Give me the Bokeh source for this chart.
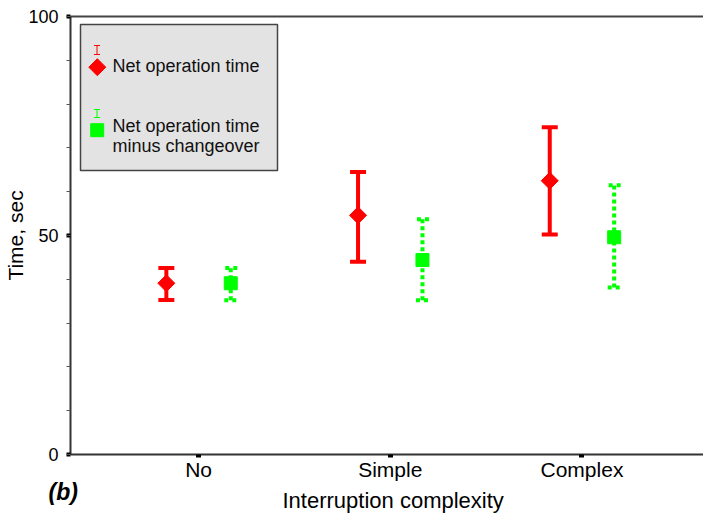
from bokeh.plotting import figure
from bokeh.models import (Range1d, FixedTicker, LinearAxis, Whisker, TeeHead,
                          ColumnDataSource, Title)
from bokeh.core.properties import value
from bokeh.embed import file_html
from bokeh.resources import INLINE
import numpy as np

# ---- data ----
categories = ["No", "Simple", "Complex"]
net_mean = [39.1, 54.6, 62.5]
net_upper = [42.6, 64.5, 74.7]
net_lower = [35.3, 44.0, 50.2]
minus_mean = [39.1, 44.4, 49.6]
minus_upper = [42.6, 53.7, 61.5]
minus_lower = [35.2, 35.2, 38.1]
series_labels = ["Net operation time", "Net operation time\nminus changeover"]
y_ticks = [0, 50, 100]

RED = "#ff0000"
GREEN = "#00ff00"
AXIS = "#333333"
FONT = "Liberation Sans"

FW, FH = 633, 438  # frame size in px
p = figure(width=703, height=514, output_backend="svg", toolbar_location=None,
           x_range=Range1d(0.332, 3.634), y_range=Range1d(0, 100),
           min_border_left=70, min_border_right=0, min_border_top=16,
           min_border_bottom=60)
p.outline_line_color = None
p.xgrid.grid_line_color = None
p.ygrid.grid_line_color = None
p.background_fill_color = "white"
p.border_fill_color = "white"

# pixel coordinate system for the legend box (origin = frame top-left)
p.extra_x_ranges = {"px": Range1d(0, FW)}
p.extra_y_ranges = {"py": Range1d(FH, 0)}

idx = np.arange(1, len(categories) + 1)
off = 0.168
src_net = ColumnDataSource(dict(x=idx - off, m=net_mean, up=net_upper, lo=net_lower))
src_min = ColumnDataSource(dict(x=idx + off, m=minus_mean, up=minus_upper, lo=minus_lower))

# error bars
w1 = Whisker(source=src_net, base="x", upper="up", lower="lo", dimension="height",
             line_color=RED, line_width=4,
             upper_head=TeeHead(size=16, line_color=RED, line_width=4),
             lower_head=TeeHead(size=16, line_color=RED, line_width=4))
w2 = Whisker(source=src_min, base="x", upper="up", lower="lo", dimension="height",
             line_color=GREEN, line_width=4, line_dash="4 3",
             upper_head=TeeHead(size=13, line_color=GREEN, line_width=4, line_dash="4 4"),
             lower_head=TeeHead(size=13, line_color=GREEN, line_width=4, line_dash="4 4"))
p.add_layout(w1)
p.add_layout(w2)

p.scatter("x", "m", source=src_net, marker="square", angle=np.pi / 4, size=12,
          fill_color=RED, line_color=RED)
p.scatter("x", "m", source=src_min, marker="square", size=13,
          fill_color=GREEN, line_color=GREEN)

# axes
yax = p.yaxis[0]
yax.ticker = FixedTicker(ticks=y_ticks, minor_ticks=list(range(0, 101, 10)))
yax.axis_line_color = AXIS
yax.axis_line_width = 2
yax.major_tick_in = 0
yax.major_tick_out = 4
yax.major_tick_line_width = 4
yax.major_tick_line_color = "black"
yax.minor_tick_in = 0
yax.minor_tick_out = 4
yax.minor_tick_line_width = 1
yax.minor_tick_line_color = "#555555"
yax.major_label_text_font = FONT
yax.major_label_text_font_size = "18px"
yax.major_label_text_color = "black"
yax.major_label_standoff = 8
yax.axis_label = "Time, sec"
yax.axis_label_text_font = FONT
yax.axis_label_text_font_size = "21px"
yax.axis_label_text_font_style = "normal"
yax.axis_label_text_color = "black"
yax.axis_label_standoff = -2

xax = p.xaxis[0]
xax.ticker = FixedTicker(ticks=list(idx), minor_ticks=[])
xax.major_label_overrides = {int(i): c for i, c in zip(idx, categories)}
xax.axis_line_color = AXIS
xax.axis_line_width = 2
xax.major_tick_in = 0
xax.major_tick_out = 3
xax.major_tick_line_width = 5
xax.major_tick_line_color = "black"
xax.major_label_text_font = FONT
xax.major_label_text_font_size = "21px"
xax.major_label_text_color = "black"
xax.major_label_standoff = 0

top = LinearAxis(ticker=FixedTicker(ticks=[], minor_ticks=[]),
                 axis_line_color="#444444", axis_line_width=2,
                 major_tick_line_color=None, minor_tick_line_color=None,
                 major_label_standoff=0, major_tick_out=0, major_tick_in=0)
p.add_layout(top, "above")

# panel tag and x-axis title share the area under the tick labels
p.add_layout(Title(text="(b)", align="left", offset=-22, standoff=-10,
                   vertical_align="top", text_font=FONT, text_font_size="23px",
                   text_font_style="bold italic", text_color="black"), "below")
p.add_layout(Title(text="Interruption complexity", align="left", offset=212,
                   standoff=-27, vertical_align="top", text_font=FONT,
                   text_font_size="22px", text_font_style="normal",
                   text_color="black"), "below")

# ---- legend box (pixel coordinates inside frame) ----
p.quad(left=[10], right=[207], top=[8], bottom=[154], x_range_name="px", y_range_name="py",
       fill_color="#e3e3e3", line_color="#444444", line_width=1.5)
# red small I + diamond
p.segment(x0=[26.5, 23.5, 23.5], y0=[29, 29, 38], x1=[26.5, 29.5, 29.5], y1=[38, 29, 38],
          x_range_name="px", y_range_name="py", line_color=RED, line_width=1)
p.scatter(x=[26.8], y=[50.7], marker="square", angle=np.pi / 4, size=12,
          fill_color=RED, line_color=RED, x_range_name="px", y_range_name="py")
# green small I + square
p.segment(x0=[26.5, 23.5, 23.5], y0=[93, 93, 101], x1=[26.5, 29.5, 29.5], y1=[101, 93, 101],
          x_range_name="px", y_range_name="py", line_color=GREEN, line_width=1)
p.scatter(x=[26.7], y=[113.7], marker="square", size=13,
          fill_color=GREEN, line_color=GREEN, x_range_name="px", y_range_name="py")
# legend texts
l1 = series_labels[0]
l2a, l2b = series_labels[1].split("\n")
p.text(x=[42, 42, 42], y=[49, 109, 129.7], text=[l1, l2a, l2b],
       x_range_name="px", y_range_name="py", text_font=value(FONT),
       text_font_size="18px", text_color="#111111", text_baseline="alphabetic",
       text_align="left")

open("out.html", "w").write(file_html(p, INLINE))
